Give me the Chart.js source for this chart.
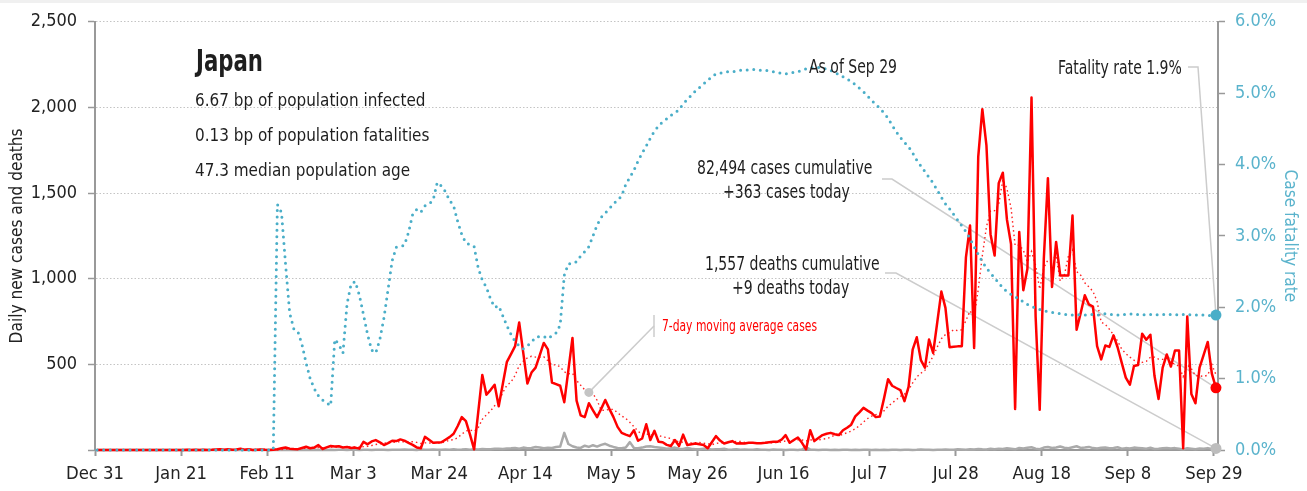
<!DOCTYPE html>
<html>
<head>
<meta charset="utf-8">
<script src="https://cdn.jsdelivr.net/npm/chart.js@4.4.1/dist/chart.umd.min.js"></script>
<style>
html,body{margin:0;padding:0;background:#fff;}
#wrap{position:relative;width:1307px;height:491px;overflow:hidden;color:#1e1e1e;}
#topband{position:absolute;left:0;top:0;width:1307px;height:3px;background:#f0f0f0;}
#c{position:absolute;left:0;top:0;}
.t{position:absolute;white-space:nowrap;line-height:1;transform-origin:0 50%;}
</style>
</head>
<body>
<div id="wrap">
  <div id="topband"></div>
  <canvas id="c" width="1307" height="491"></canvas>
</div>
<script>
// ---- data (Dec 31 = day 0, daily through Sep 29 = day 273) ----
const tickDays = [0,21,42,63,84,105,126,147,168,189,210,231,252,273];
const tickLabels = ['Dec 31','Jan 21','Feb 11','Mar 3','Mar 24','Apr 14','May 5','May 26','Jun 16','Jul 7','Jul 28','Aug 18','Sep 8','Sep 29'];

const cases = [
0,0,0,0,0,0,0,0,0,0,
0,0,0,0,0,0,0,0,0,0,
0,0,2,0,1,0,2,0,1,3,
4,2,5,1,3,8,2,4,0,2,
3,1,0,2,4,10,15,8,6,5,
12,19,10,14,29,6,15,23,20,22,
15,18,12,14,8,48,33,50,58,45,
29,40,54,52,62,55,42,30,15,10,
77,60,42,44,45,60,75,95,140,192,
168,90,4,220,438,323,350,381,256,385,
515,560,606,744,566,388,452,481,553,625,
587,394,385,375,279,466,654,288,202,192,
273,232,192,240,292,240,192,135,100,90,
81,115,54,67,150,58,112,48,45,30,
23,58,23,90,29,33,38,33,29,10,
45,81,55,38,45,52,38,40,38,42,
42,40,40,42,45,48,48,60,87,42,
58,73,42,4,115,52,70,87,95,100,
92,87,115,130,148,196,220,246,230,215,
192,196,300,413,375,362,350,285,369,586,
658,525,481,645,567,745,925,830,600,603,
605,606,1125,1311,596,1711,1990,1779,1260,1135,
1558,1619,1346,1202,240,1273,933,1058,2058,779,
235,1115,1587,952,1215,1019,1019,1019,1369,702,
800,904,850,837,606,529,610,602,669,600,
510,423,381,490,496,679,644,673,433,298,
481,558,487,581,581,10,779,327,273,481,
556,631,446,363];

const movingAvgCases = [
0,0,0,0,0,0,0,0,0,0,
0,0,0,0,0,0,0,0,0,0,
0,0,0.3,0.3,0.4,0.4,0.7,0.7,0.9,1.0,
1.6,1.7,2.4,2.3,2.7,3.7,3.6,3.6,3.3,2.9,
3.1,2.9,1.7,1.7,1.7,3.1,5.0,5.7,6.4,7.1,
8.6,10.7,10.7,10.6,13.6,13.6,15.0,16.6,16.7,18.4,
18.6,17.0,17.9,17.7,15.6,19.6,21.1,26.1,31.9,36.6,
38.7,43.3,44.1,46.9,48.6,48.1,47.7,47.9,44.3,38.0,
41.6,41.3,39.4,39.7,41.9,48.3,57.6,60.1,71.6,93.0,
110.7,117.1,109.1,129.9,178.9,205.0,227.6,258.0,281.7,336.1,
378.3,395.7,436.1,492.4,518.9,537.7,547.3,542.4,541.4,544.1,
521.7,497.1,496.7,485.7,456.9,444.4,448.6,405.9,378.4,350.9,
336.3,329.6,290.4,231.3,231.9,237.3,237.3,217.6,198.7,184.1,
161.4,136.1,109.6,91.7,93.9,87.9,91.0,86.3,76.3,72.9,
66.6,53.4,48.4,45.3,42.6,40.9,42.0,43.4,39.3,37.4,
31.0,38.4,41.6,41.6,43.3,46.6,50.6,49.9,43.7,41.9,
42.4,41.7,40.0,40.6,41.3,42.7,43.6,46.1,52.9,53.1,
55.4,59.4,58.6,52.3,60.1,55.1,59.1,63.3,66.4,74.7,
87.3,83.3,92.3,100.9,109.6,124.0,141.1,163.1,183.6,197.9,
206.7,213.6,228.4,256.0,274.4,293.3,312.6,325.9,350.6,391.4,
426.4,447.9,464.9,507.0,547.3,601.0,649.4,674.0,684.7,702.1,
696.4,702.0,756.3,811.4,778.0,936.7,1134.9,1302.6,1396.0,1397.4,
1432.7,1578.9,1526.7,1414.1,1194.3,1196.1,1167.3,1095.9,1158.6,1077.6,
939.4,1064.4,1109.3,1112.0,1134.4,986.0,1020.3,1132.3,1168.6,1042.1,
1020.4,976.0,951.9,925.9,866.9,746.9,733.7,705.4,671.9,636.1,
589.4,563.3,542.1,525.0,509.9,511.3,517.6,540.9,542.3,530.4,
529.1,538.0,510.6,501.6,488.4,428.0,496.7,474.7,434.0,433.1,
429.6,436.7,499.0,439.6];

const deaths = [
0,0,0,0,0,0,0,0,0,0,
0,0,0,0,0,0,0,0,0,0,
0,0,0,0,0,0,0,0,0,0,
0,0,0,0,0,0,0,0,0,0,
0,0,0,0,1,0,0,0,0,0,
0,0,0,1,0,1,0,1,0,2,
1,0,1,2,0,2,1,0,2,1,
2,0,1,2,1,3,1,2,0,3,
1,2,3,1,2,3,1,4,2,3,
5,2,4,3,6,5,4,7,8,6,
9,10,12,8,14,10,12,18,15,10,
13,12,18,20,100,35,22,15,12,25,
18,28,20,30,36,25,18,12,10,15,
46,12,10,14,20,22,18,15,12,8,
10,14,8,6,12,8,5,4,8,6,
3,5,4,7,2,3,5,2,3,1,
2,4,1,2,0,3,1,2,0,1,
2,0,3,18,2,1,0,2,1,0,
1,0,2,1,0,1,0,2,1,0,
1,0,1,0,2,1,0,1,2,0,
1,3,1,2,0,1,2,3,1,2,
4,3,2,5,3,6,4,3,7,5,
8,6,10,7,4,12,9,13,16,8,
5,14,18,12,15,20,13,10,16,22,
12,14,18,11,9,13,15,10,12,16,
8,11,9,14,12,10,8,13,6,7,
10,12,9,11,7,3,10,8,5,9,
7,11,6,9];

const fatalityRate = [
0,0,0,0,0,0,0,0,0,0,
0,0,0,0,0,0,0,0,0,0,
0,0,0,0,0,0,0,0,0,0,
0,0,0,0,0,0,0,0,0,0,
0,0,0,0,3.44,3.33,2.60,1.92,1.70,1.66,
1.48,1.22,1.00,0.86,0.76,0.70,0.66,0.62,1.55,1.48,
1.36,2.05,2.33,2.36,2.17,1.90,1.62,1.40,1.36,1.55,
1.85,2.25,2.65,2.84,2.85,2.87,3.05,3.30,3.37,3.33,
3.42,3.45,3.50,3.75,3.70,3.62,3.50,3.42,3.20,3.02,
2.90,2.88,2.85,2.55,2.38,2.28,2.12,2.00,2.02,1.88,
1.74,1.62,1.52,1.46,1.42,1.46,1.51,1.58,1.59,1.59,
1.56,1.60,1.64,1.75,2.45,2.61,2.61,2.64,2.72,2.78,
2.85,3.00,3.15,3.26,3.32,3.38,3.45,3.50,3.56,3.72,
3.82,3.92,4.05,4.16,4.26,4.37,4.47,4.54,4.60,4.64,
4.69,4.72,4.77,4.85,4.91,4.97,5.03,5.08,5.13,5.18,
5.23,5.27,5.28,5.29,5.30,5.30,5.31,5.32,5.32,5.33,
5.33,5.33,5.32,5.32,5.31,5.30,5.29,5.28,5.27,5.28,
5.29,5.30,5.32,5.34,5.35,5.36,5.36,5.35,5.34,5.32,
5.29,5.26,5.23,5.20,5.16,5.12,5.07,5.02,4.96,4.90,
4.84,4.79,4.72,4.65,4.55,4.46,4.38,4.31,4.25,4.16,
4.06,3.98,3.90,3.82,3.74,3.64,3.54,3.45,3.38,3.30,
3.22,3.14,3.06,2.96,2.85,2.74,2.64,2.55,2.48,2.41,
2.34,2.27,2.22,2.18,2.15,2.11,2.08,2.04,2.01,1.99,
1.97,1.95,1.94,1.93,1.92,1.91,1.90,1.90,1.89,1.89,
1.90,1.89,1.89,1.90,1.89,1.90,1.91,1.90,1.90,1.89,
1.90,1.90,1.91,1.90,1.90,1.89,1.90,1.90,1.89,1.90,
1.90,1.89,1.90,1.90,1.89,1.90,1.90,1.89,1.89,1.90,
1.89,1.89,1.88,1.89];

const maMarkerDay = 120;   // day where the moving-average label points

// ---- annotation texts (anchor x, baseline, reference width and cap height) ----
const annotations = [
  {group:'title', text:'Japan', align:'left', x:196, base:72, w:67, cap:21.5, bold:true},
  {group:'stats', text:'6.67 bp of population infected', align:'left', x:195, base:107, w:231, cap:12.6},
  {group:'stats', text:'0.13 bp of population fatalities', align:'left', x:195, base:142, w:236, cap:12.6},
  {group:'stats', text:'47.3 median population age', align:'left', x:195, base:177, w:213, cap:12.6},
  {group:'note', text:'As of Sep 29', align:'left', x:809, base:72.5, w:80, cap:13.8},
  {group:'note', text:'Fatality rate 1.9%', align:'right', x:1182, base:73.5, w:124, cap:13.8},
  {group:'note', text:'82,494 cases cumulative', align:'center', x:785, base:173.5, w:180, cap:13.8},
  {group:'note', text:'+363 cases today', align:'center', x:786, base:198, w:128, cap:13.8},
  {group:'note', text:'1,557 deaths cumulative', align:'center', x:792, base:270, w:178, cap:13.8},
  {group:'note', text:'+9 deaths today', align:'center', x:791, base:294, w:116, cap:13.8},
  {group:'ma', text:'7-day moving average cases', align:'left', x:662, base:331, w:155, cap:12.2, color:'#ff0000'}
];

// ---- font selection ----
const meas = document.createElement('canvas').getContext('2d');
const probeStr = 'Dec 31 abcdefghijklmnopqrstuvwxyz 2,500%';
function hasFont(f) {
  meas.font = '40px ' + f + ', monospace'; const a = meas.measureText(probeStr).width;
  meas.font = '40px ' + f + ', serif'; const b = meas.measureText(probeStr).width;
  return Math.abs(a - b) < 0.01;
}
const FAM = (['"Liberation Sans Narrow"', '"Noto Sans Condensed"', '"Noto Sans SemiCondensed"', '"DejaVu Sans Condensed"'].find(hasFont) || 'sans-serif') + ', sans-serif';
function setF(size, bold) { meas.font = (bold ? 'bold ' : '') + size + 'px ' + FAM; }
function tw(t, size, bold) { setF(size, bold); return meas.measureText(t).width; }
function capRatio(bold) { setF(100, bold); return meas.measureText('HE').actualBoundingBoxAscent / 100; }

// place annotation texts as DOM text
(function placeTexts() {
  const wrap = document.getElementById('wrap');
  const groups = {};
  annotations.forEach(a => { (groups[a.group] = groups[a.group] || []).push(a); });
  Object.values(groups).forEach(list => {
    const bold = !!list[0].bold;
    const size = list[0].cap / capRatio(bold);
    const ref = list.reduce((s, a) => s + a.w, 0);
    const got = list.reduce((s, a) => s + tw(a.text, size, bold), 0);
    const sx = ref / got;
    setF(100, bold);
    const m = meas.measureText('Hg');
    const asc = m.fontBoundingBoxAscent / 100, desc = m.fontBoundingBoxDescent / 100;
    const baseOff = size * (0.5 + (asc - desc) / 2);
    list.forEach(a => {
      const d = document.createElement('div');
      d.className = 't';
      d.textContent = a.text;
      d.style.fontFamily = FAM;
      d.style.fontSize = size.toFixed(2) + 'px';
      if (bold) d.style.fontWeight = 'bold';
      if (a.color) d.style.color = a.color;
      d.style.transform = 'scaleX(' + sx.toFixed(4) + ')';
      wrap.appendChild(d);
      const w = d.offsetWidth * sx;
      const left = a.align === 'left' ? a.x : a.align === 'right' ? a.x - w : a.x - w / 2;
      d.style.left = left.toFixed(1) + 'px';
      d.style.top = (a.base - baseOff).toFixed(1) + 'px';
    });
  });
})();

// tick font sizes: mostly fitted to reference label widths, partly to cap height
const cr = capRatio(false);
const ySize = +(0.3 * (15 / cr) + 0.7 * 20 * (44 + 38) / (tw('2,500', 20) + tw('6.0%', 20))).toFixed(2);
const xSize = +(0.3 * (16.5 / cr) + 0.7 * 20 * (50 + 54) / (tw('Dec 31', 20) + tw('Sep 29', 20))).toFixed(2);
const titleSize = +(17 * 215 / tw('Daily new cases and deaths', 17)).toFixed(2);

// ---- chart ----
const BLUE = '#4aaec8';
const BLUE_TXT = '#5ab3cc';
const toPts = arr => arr.map((v, i) => ({x: i + 0.5, y: v}));
const lastIdx = cases.length - 1;

const connectors = {
  id: 'connectors',
  beforeDatasetsDraw(chart) {
    const {ctx, scales: {x, y, y1}} = chart;
    const px = x.getPixelForValue(lastIdx + 0.5);
    const line = pts => {
      ctx.beginPath();
      ctx.moveTo(pts[0][0], pts[0][1]);
      for (let i = 1; i < pts.length; i++) ctx.lineTo(pts[i][0], pts[i][1]);
      ctx.stroke();
    };
    ctx.save();
    ctx.strokeStyle = '#cccccc';
    ctx.lineWidth = 1.5;
    line([[1188, 67], [1198, 67], [px, y1.getPixelForValue(fatalityRate[lastIdx])]]);
    line([[882, 179], [892, 179], [px, y.getPixelForValue(cases[lastIdx])]]);
    line([[885, 273], [896, 273], [px, y.getPixelForValue(deaths[lastIdx])]]);
    line([[654, 326], [x.getPixelForValue(maMarkerDay + 0.5), y.getPixelForValue(movingAvgCases[maMarkerDay])]]);
    line([[654, 315], [654, 337]]);
    ctx.restore();
  }
};

new Chart(document.getElementById('c'), {
  type: 'line',
  data: {
    datasets: [
      {
        label: 'Case fatality rate', data: toPts(fatalityRate), yAxisID: 'y1', order: 0,
        borderColor: BLUE, borderWidth: 3, borderDash: [0, 6.6], borderCapStyle: 'round',
        pointRadius: c => c.dataIndex === lastIdx ? 5.5 : 0, pointBackgroundColor: BLUE, pointBorderWidth: 0,
        clip: false
      },
      {
        label: 'Daily new cases', data: toPts(cases), yAxisID: 'y', order: 1,
        borderColor: '#ff0000', borderWidth: 2.5, borderJoinStyle: 'round',
        pointRadius: c => c.dataIndex === lastIdx ? 5.5 : 0, pointBackgroundColor: '#ff0000', pointBorderWidth: 0,
        clip: false
      },
      {
        label: '7-day moving average cases', data: toPts(movingAvgCases), yAxisID: 'y', order: 2,
        borderColor: '#ff2020', borderWidth: 1.4, borderDash: [1.5, 3],
        pointRadius: c => c.dataIndex === maMarkerDay ? 4.5 : 0, pointBackgroundColor: '#c4c4c4', pointBorderWidth: 0,
        clip: false
      },
      {
        label: 'Daily deaths', data: toPts(deaths), yAxisID: 'y', order: 3,
        borderColor: '#aaaaaa', borderWidth: 2.5, borderJoinStyle: 'round',
        pointRadius: c => c.dataIndex === lastIdx ? 5.5 : 0, pointBackgroundColor: '#bdbdbd', pointBorderWidth: 0,
        clip: false
      }
    ]
  },
  options: {
    responsive: false, animation: false, devicePixelRatio: 1,
    layout: {padding: {top: 17, left: 0, right: 0, bottom: 0}},
    elements: {line: {tension: 0, fill: false}},
    plugins: {legend: {display: false}, tooltip: {enabled: false}},
    scales: {
      x: {
        type: 'linear', min: 0, max: 274,
        afterBuildTicks: s => { s.ticks = tickDays.map(v => ({value: v})); },
        afterFit: s => { s.height = 41; },
        ticks: {
          autoSkip: false, maxRotation: 0, padding: 7, color: '#222',
          font: {family: FAM, size: xSize},
          callback: v => tickLabels[tickDays.indexOf(v)]
        },
        grid: {drawOnChartArea: false, tickLength: 6, tickColor: '#999', tickWidth: 2},
        border: {color: '#999', width: 2}
      },
      y: {
        position: 'left', min: 0, max: 2500,
        afterFit: s => { s.width = 95; },
        ticks: {
          stepSize: 500, padding: 11, color: '#222', font: {family: FAM, size: ySize},
          callback: v => v === 0 ? '' : v.toLocaleString('en-US')
        },
        grid: {color: '#c4c4c4', lineWidth: 1, tickLength: 7, tickColor: '#999', tickWidth: 1.5},
        border: {color: '#999', width: 2, dash: [1.5, 2]},
        title: {display: true, text: 'Daily new cases and deaths', color: '#222',
                font: {family: FAM, size: titleSize}, padding: {top: 7, bottom: 0}}
      },
      y1: {
        position: 'right', min: 0, max: 6,
        afterFit: s => { s.width = 89; },
        ticks: {
          stepSize: 1, padding: 10, color: BLUE_TXT, font: {family: FAM, size: ySize},
          callback: v => v.toFixed(1) + '%'
        },
        grid: {drawOnChartArea: false, tickLength: 7, tickColor: '#999', tickWidth: 1.5},
        border: {color: '#999', width: 2},
        title: {display: true, text: 'Case fatality rate', color: BLUE_TXT,
                font: {family: FAM, size: titleSize}, padding: {top: 7, bottom: 0}}
      }
    }
  },
  plugins: [connectors]
});
</script>
</body>
</html>
